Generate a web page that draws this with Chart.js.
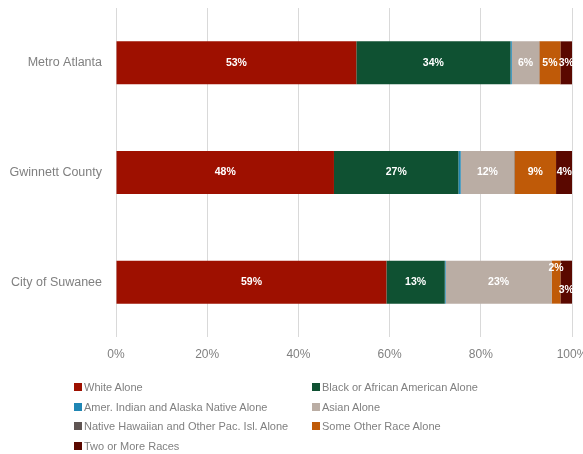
<!DOCTYPE html>
<html>
<head>
<meta charset="utf-8">
<script src="https://cdn.jsdelivr.net/npm/chart.js@4/dist/chart.umd.min.js"></script>
<style>
  html, body { margin: 0; padding: 0; background: #fff; }
  #wrap { position: relative; width: 583px; height: 454px; }
  #legend {
    position: absolute; left: 74px; top: 377px;
    display: grid; grid-template-columns: 238px 240px; grid-auto-rows: 19.7px;
    font-family: "Liberation Sans", Arial, sans-serif; font-size: 11px; color: #808080;
  }
  #legend .item { display: flex; align-items: center; white-space: nowrap; }
  #legend .box { width: 8px; height: 8px; margin-right: 2px; flex: none; }
</style>
</head>
<body>
<div id="wrap">
  <canvas id="c" width="583" height="454"></canvas>
  <div id="legend"></div>
</div>
<script>
// Race composition (percent of population) for each area
const areas = ["Metro Atlanta", "Gwinnett County", "City of Suwanee"];
const seriesNames = [
  "White Alone",
  "Black or African American Alone",
  "Amer. Indian and Alaska Native Alone",
  "Asian Alone",
  "Native Hawaiian and Other Pac. Isl. Alone",
  "Some Other Race Alone",
  "Two or More Races"
];
const whiteAlone    = [52.7, 47.8, 59.3];
const blackAlone    = [33.8, 27.3, 12.8];
const amerIndian    = [0.3, 0.5, 0.2];
const asianAlone    = [6.0, 11.7, 23.2];
const nativeHawaiian = [0.05, 0.1, 0.05];
const otherRace     = [4.6, 9.1, 1.9];
const twoOrMore     = [2.6, 3.6, 2.6];
const xTicks = ["0%", "20%", "40%", "60%", "80%", "100%"];

const seriesValues = [whiteAlone, blackAlone, amerIndian, asianAlone, nativeHawaiian, otherRace, twoOrMore];
const seriesColors = ["#9E1000", "#0F5132", "#1F86B4", "#BAADA4", "#5F5553", "#BF5A08", "#5A0800"];

const FONT = "'Liberation Sans', Arial, sans-serif";

// White percentage labels inside the segments; crowded neighbours are staggered
const segmentLabels = {
  id: "segmentLabels",
  afterDatasetsDraw(chart) {
    const ctx = chart.ctx;
    ctx.save();
    ctx.font = "bold 10.5px " + FONT;
    ctx.fillStyle = "#ffffff";
    ctx.textAlign = "center";
    ctx.textBaseline = "middle";
    areas.forEach((_, i) => {
      const items = [];
      chart.data.datasets.forEach((ds, d) => {
        const v = ds.data[i];
        if (v < 1.5) return;
        const bar = chart.getDatasetMeta(d).data[i];
        const text = Math.round(v) + "%";
        const w = Math.abs(bar.x - bar.base);
        items.push({ bar, text, narrow: w < ctx.measureText(text).width });
      });
      items.forEach((it, k) => {
        const prev = items[k - 1], next = items[k + 1];
        let dy = 0;
        if (it.narrow && next && next.narrow) dy = -14;
        else if (it.narrow && prev && prev.narrow) dy = 8;
        const cx = (it.bar.x + it.bar.base) / 2;
        ctx.fillText(it.text, cx, it.bar.y + dy);
      });
    });
    ctx.restore();
  }
};

// Scales take no extra room for label overhang
function noOverhang(s) {
  s.paddingLeft = 0; s.paddingRight = 0; s.paddingTop = 0; s.paddingBottom = 0;
}

new Chart(document.getElementById("c"), {
  type: "bar",
  data: {
    labels: areas,
    datasets: seriesNames.map((name, k) => ({
      label: name,
      data: seriesValues[k],
      backgroundColor: seriesColors[k],
      borderWidth: 0,
      categoryPercentage: 1,
      barPercentage: 0.392
    }))
  },
  options: {
    indexAxis: "y",
    responsive: false,
    animation: false,
    layout: { autoPadding: false, padding: { top: 8, right: 11, bottom: 89, left: 0 } },
    plugins: { legend: { display: false }, tooltip: { enabled: false } },
    scales: {
      x: {
        stacked: true, min: 0, max: 100,
        ticks: {
          stepSize: 20, padding: 10, color: "#808080",
          font: { family: FONT, size: 12 },
          callback: (v, i) => xTicks[i]
        },
        grid: { color: "#D9D9D9", drawTicks: false },
        border: { display: false },
        afterFit(s) { s.height = 28; noOverhang(s); }
      },
      y: {
        stacked: true,
        ticks: { padding: 14, color: "#808080", font: { family: FONT, size: 12.5 } },
        grid: { display: false, drawTicks: false },
        border: { display: false },
        afterFit(s) { s.width = 116; noOverhang(s); }
      }
    }
  },
  plugins: [segmentLabels]
});

// Two-column legend built from the series
const legend = document.getElementById("legend");
seriesNames.forEach((name, k) => {
  const item = document.createElement("div");
  item.className = "item";
  const box = document.createElement("span");
  box.className = "box";
  box.style.background = seriesColors[k];
  const label = document.createElement("span");
  label.textContent = name;
  item.appendChild(box);
  item.appendChild(label);
  legend.appendChild(item);
});
</script>
</body>
</html>
